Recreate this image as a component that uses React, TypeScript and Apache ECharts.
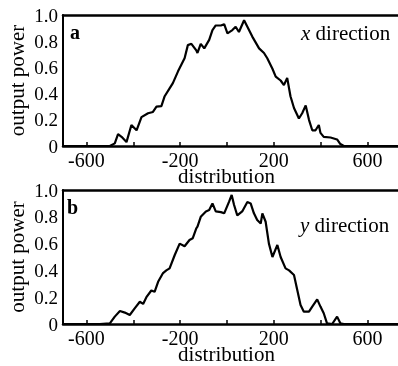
import React, { useEffect, useRef } from 'react';
import * as echarts from 'echarts';

// panel a: x direction
const xA = [-700, -500, -479, -465, -450, -429, -408, -386, -365, -337, -316, -301, -280, -266, -245, -231, -209, -195, -181, -167, -152, -131, -126, -112, -97, -76, -62, -48, -26, -12, 2, 23, 37, 51, 73, 87, 108, 137, 158, 172, 194, 208, 229, 243, 257, 271, 286, 307, 321, 336, 350, 364, 378, 392, 399, 413, 442, 470, 484, 499, 730];
const yA = [0, 0, 0.02, 0.09, 0.07, 0.03, 0.16, 0.12, 0.22, 0.25, 0.26, 0.3, 0.305, 0.38, 0.44, 0.48, 0.57, 0.62, 0.67, 0.77, 0.78, 0.73, 0.71, 0.78, 0.745, 0.81, 0.885, 0.92, 0.92, 0.93, 0.86, 0.885, 0.91, 0.87, 0.96, 0.91, 0.835, 0.745, 0.71, 0.67, 0.59, 0.53, 0.5, 0.465, 0.52, 0.38, 0.29, 0.21, 0.25, 0.31, 0.2, 0.12, 0.12, 0.16, 0.1, 0.07, 0.065, 0.05, 0.015, 0, 0];

// panel b: y direction
const xB = [-700, -543, -500, -479, -457, -436, -415, -394, -372, -358, -344, -323, -309, -294, -273, -259, -245, -223, -202, -181, -160, -146, -131, -126, -112, -90, -76, -62, -48, -26, -12, 9, 20, 30, 44, 65, 87, 101, 115, 129, 144, 151, 165, 179, 194, 215, 229, 250, 265, 286, 300, 314, 328, 350, 364, 385, 399, 413, 427, 449, 470, 484, 499, 730];
const yB = [0, 0, 0.005, 0.055, 0.097, 0.085, 0.067, 0.117, 0.166, 0.15, 0.2, 0.25, 0.24, 0.315, 0.38, 0.4, 0.415, 0.515, 0.6, 0.58, 0.627, 0.64, 0.714, 0.726, 0.8, 0.84, 0.85, 0.9, 0.84, 0.835, 0.826, 0.913, 0.963, 0.89, 0.81, 0.84, 0.91, 0.9, 0.826, 0.776, 0.75, 0.826, 0.763, 0.6, 0.5, 0.59, 0.5, 0.415, 0.4, 0.366, 0.254, 0.142, 0.092, 0.092, 0.13, 0.184, 0.13, 0.08, 0.005, 0, 0.055, 0.005, 0, 0];

const xTickValues = [-600, -400, -200, 0, 200, 400, 600];
const xLabelValues = [-600, -200, 200, 600];
const X_MIN = -700;
const X_MAX = 730;

const FONT = "'Liberation Serif', 'DejaVu Serif', serif";

export default function App() {
  const ref = useRef<HTMLDivElement>(null);
  useEffect(() => {
    if (!ref.current) return;
    const chart = echarts.init(ref.current, undefined, { renderer: 'svg' });
    const bottomAxis = (gridIndex: number) => ({
      type: 'value',
      gridIndex,
      position: 'bottom',
      min: X_MIN,
      max: X_MAX,
      name: 'distribution',
      nameLocation: 'middle',
      nameGap: 22,
      nameMoveOverlap: false,
      nameTextStyle: { fontFamily: FONT, fontSize: 21, lineHeight: 16, color: '#000', padding: [0, 8, 0, 0] },
      axisLine: { show: true, onZero: false, lineStyle: { color: '#000', width: 2.5 } },
      axisTick: { show: true, inside: true, length: 4, customValues: xTickValues, lineStyle: { color: '#000', width: 1.5 } },
      axisLabel: { show: true, customValues: xLabelValues, margin: 6, fontFamily: FONT, fontSize: 20, lineHeight: 15, color: '#000' },
      splitLine: { show: false },
    });
    const topAxis = (gridIndex: number) => ({
      type: 'value',
      gridIndex,
      position: 'top',
      min: X_MIN,
      max: X_MAX,
      axisLine: { show: true, onZero: false, lineStyle: { color: '#000', width: 2.5 } },
      axisTick: { show: false },
      axisLabel: { show: false },
      splitLine: { show: false },
    });
    const yAxis = (gridIndex: number) => ({
      type: 'value',
      gridIndex,
      min: 0,
      max: 1,
      interval: 0.2,
      name: 'output power',
      nameLocation: 'middle',
      nameRotate: 90,
      nameGap: 36,
      nameMoveOverlap: false,
      nameTextStyle: { fontFamily: FONT, fontSize: 21, color: '#000' },
      axisLine: { show: true, onZero: false, lineStyle: { color: '#000', width: 2 } },
      axisTick: { show: false },
      axisLabel: {
        margin: 5,
        fontFamily: FONT,
        fontSize: 19,
        color: '#000',
        formatter: (v: number) => (v === 0 ? '0' : v.toFixed(1)),
      },
      splitLine: { show: false },
    });
    const pairs = (xs: number[], ys: number[]) => xs.map((x, i) => [x, ys[i]]);
    chart.setOption({
      animation: false,
      grid: [
        { left: 63, top: 15, width: 335, height: 131, containLabel: false, outerBoundsMode: 'none' },
        { left: 63, top: 190, width: 335, height: 134, containLabel: false, outerBoundsMode: 'none' },
      ],
      xAxis: [bottomAxis(0), topAxis(0), bottomAxis(1), topAxis(1)],
      yAxis: [yAxis(0), yAxis(1)],
      series: [
        {
          type: 'line',
          xAxisIndex: 0,
          yAxisIndex: 0,
          data: pairs(xA, yA),
          showSymbol: false,
          lineStyle: { color: '#000', width: 2.2 },
        },
        {
          type: 'line',
          xAxisIndex: 2,
          yAxisIndex: 1,
          data: pairs(xB, yB),
          showSymbol: false,
          lineStyle: { color: '#000', width: 2.2 },
        },
      ],
      graphic: [
        { type: 'text', x: 70, y: 32, style: { text: 'a', fontFamily: FONT, fontSize: 20, fontWeight: 'bold', fill: '#000', verticalAlign: 'middle' } },
        { type: 'text', x: 67, y: 207, style: { text: 'b', fontFamily: FONT, fontSize: 20, fontWeight: 'bold', fill: '#000', verticalAlign: 'middle' } },
        {
          type: 'text', x: 301, y: 33,
          style: {
            text: '{i|x} direction', fontFamily: FONT, fontSize: 21, fill: '#000', verticalAlign: 'middle',
            rich: { i: { fontStyle: 'italic', fontFamily: FONT, fontSize: 21, fill: '#000' } },
          },
        },
        {
          type: 'text', x: 300, y: 225,
          style: {
            text: '{i|y} direction', fontFamily: FONT, fontSize: 21, fill: '#000', verticalAlign: 'middle',
            rich: { i: { fontStyle: 'italic', fontFamily: FONT, fontSize: 21, fill: '#000' } },
          },
        },
      ],
    });
    return () => chart.dispose();
  }, []);
  return <div ref={ref} style={{ position: 'fixed', left: 0, top: 0, width: 398, height: 366 }} />;
}
